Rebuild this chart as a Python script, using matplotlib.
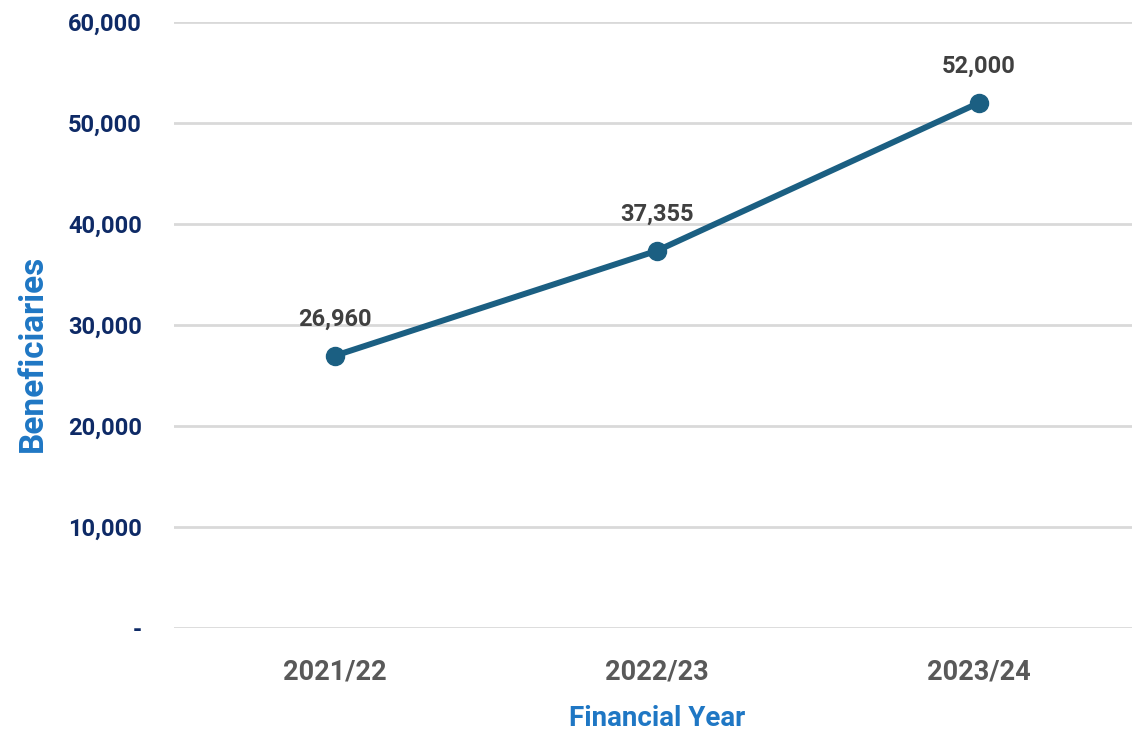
import matplotlib.pyplot as plt
from matplotlib.ticker import FuncFormatter

years = ['2021/22', '2022/23', '2023/24']
beneficiaries = [26960, 37355, 52000]
y_ticks = [0, 10000, 20000, 30000, 40000, 50000, 60000]

plt.rcParams['font.family'] = ['Roboto', 'DejaVu Sans']

fig = plt.figure(figsize=(11.32, 7.35), dpi=100)
ax = fig.add_axes([174 / 1132, 107 / 735, 966 / 1132, 606 / 735])

x = list(range(len(years)))
ax.plot(x, beneficiaries, color='#1b5f82', linewidth=4.3, marker='o',
        markersize=13, solid_capstyle='round', zorder=3)

for xi, v in zip(x, beneficiaries):
    ax.annotate(f'{v:,}', (xi, v), xytext=(0, 26), textcoords='offset points',
                ha='center', va='center', fontsize=17, fontweight='bold',
                color='#404040')

ax.set_xlim(-0.5, 2.5)
ax.set_ylim(0, 60000)
ax.set_yticks(y_ticks)
ax.yaxis.set_major_formatter(FuncFormatter(lambda v, p: '-' if v == 0 else f'{int(v):,}'))
ax.set_xticks(x)
ax.set_xticklabels(years)

ax.grid(axis='y', color='#d9d9d9', linewidth=2)
ax.set_axisbelow(True)
for s in ax.spines.values():
    s.set_visible(False)
ax.tick_params(axis='both', length=0)
ax.tick_params(axis='y', labelsize=17, labelcolor='#0e2a66', pad=23)
ax.tick_params(axis='x', labelsize=19.5, labelcolor='#595959', pad=22)
for lbl in ax.get_yticklabels() + ax.get_xticklabels():
    lbl.set_fontweight('bold')

fig.text(33 / 1132, 1 - 353 / 735, 'Beneficiaries', rotation=90, ha='center',
         va='center', fontsize=24, fontweight='bold', color='#1f77c4')
fig.text(657 / 1132, 1 - 719 / 735, 'Financial Year', ha='center', va='center',
         fontsize=20, fontweight='bold', color='#1f77c4')

fig.savefig('out.png', dpi=100)
